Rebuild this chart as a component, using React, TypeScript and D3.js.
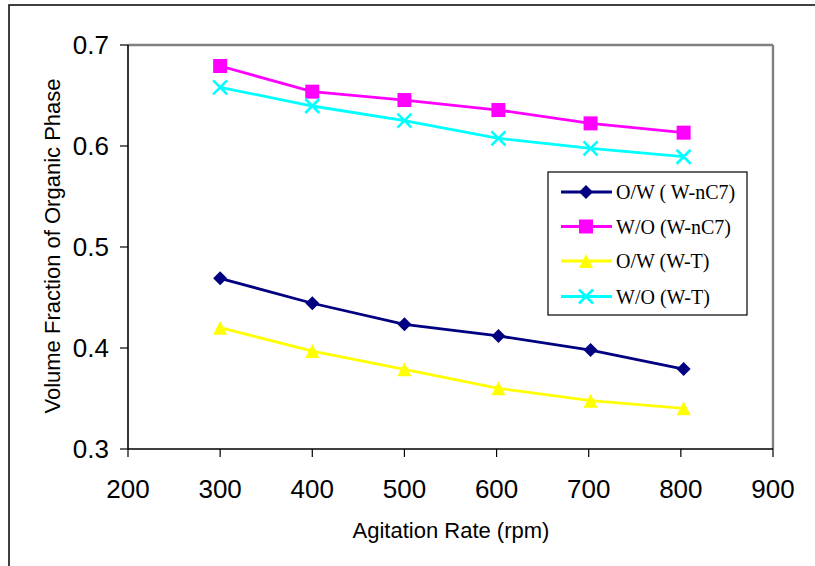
import React from "react";
import * as d3 from "d3";

const rpmOWnC7 = [300, 400, 500, 602, 702, 803];
const rpmWOnC7 = [300, 400, 500, 602, 702, 803];
const rpmOWT = [300, 400, 500, 602, 702, 803];
const rpmWOT = [300, 400, 500, 602, 702, 803];

const owNC7 = [0.469, 0.4443, 0.4235, 0.4119, 0.398, 0.3792];
const woNC7 = [0.6792, 0.6538, 0.6455, 0.6356, 0.6224, 0.6132];
const owT = [0.4201, 0.397, 0.3789, 0.3601, 0.3478, 0.3403];
const woT = [0.6581, 0.6396, 0.6251, 0.6076, 0.5977, 0.5894];

const xTicks = [200, 300, 400, 500, 600, 700, 800, 900];
const yTicks = [0.3, 0.4, 0.5, 0.6, 0.7];

const seriesNames = ["O/W ( W-nC7)", "W/O (W-nC7)", "O/W (W-T)", "W/O (W-T)"];
const xTitle = "Agitation Rate (rpm)";
const yTitle = "Volume Fraction of Organic Phase";

const SANS = "'Liberation Sans', Arial, sans-serif";
const SERIF = "'Liberation Serif', 'Times New Roman', serif";

type Marker = "diamond" | "square" | "triangle" | "x";

function MarkerShape({ type, x, y, color }: { type: Marker; x: number; y: number; color: string }) {
  const h = 7;
  if (type === "diamond") {
    return <path d={`M${x},${y - h} L${x + h},${y} L${x},${y + h} L${x - h},${y} Z`} fill={color} />;
  }
  if (type === "square") {
    return <rect x={x - h} y={y - h} width={2 * h} height={2 * h} fill={color} />;
  }
  if (type === "triangle") {
    return <path d={`M${x},${y - h} L${x + h},${y + h} L${x - h},${y + h} Z`} fill={color} />;
  }
  return (
    <path
      d={`M${x - h},${y - h} L${x + h},${y + h} M${x - h},${y + h} L${x + h},${y - h}`}
      stroke={color}
      strokeWidth={2.6}
      fill="none"
    />
  );
}

export default function App() {
  const W = 815;
  const H = 566;
  const left = 128;
  const right = 773;
  const top = 45;
  const bottom = 449;

  const x = d3.scaleLinear().domain([200, 900]).range([left, right]);
  const y = d3.scaleLinear().domain([0.3, 0.7]).range([bottom, top]);

  const series = [
    { name: seriesNames[0], xs: rpmOWnC7, ys: owNC7, color: "#000080", marker: "diamond" as Marker },
    { name: seriesNames[1], xs: rpmWOnC7, ys: woNC7, color: "#FF00FF", marker: "square" as Marker },
    { name: seriesNames[2], xs: rpmOWT, ys: owT, color: "#FFFF00", marker: "triangle" as Marker },
    { name: seriesNames[3], xs: rpmWOT, ys: woT, color: "#00FFFF", marker: "x" as Marker },
  ];

  const line = d3
    .line<[number, number]>()
    .x((d) => x(d[0]))
    .y((d) => y(d[1]));

  const legX = 548;
  const legY = 172;
  const legW = 199;
  const legH = 143;
  const legRows = [192, 226.5, 261, 296.5];

  return (
    <svg
      width={W}
      height={H}
      style={{ position: "absolute", left: 0, top: 0, background: "#fff" }}
    >
      <rect x={0} y={0} width={W} height={H} fill="#fff" />
      {/* outer border */}
      <rect x={9} y={5} width={1000} height={800} fill="none" stroke="#111" strokeWidth={1.6} />

      {/* plot frame top/right */}
      <line x1={left} y1={top} x2={right} y2={top} stroke="#808080" strokeWidth={2.4} />
      <line x1={right} y1={top} x2={right} y2={bottom} stroke="#808080" strokeWidth={2.4} />

      {/* axes */}
      <line x1={left} y1={top} x2={left} y2={bottom} stroke="#000" strokeWidth={1.6} />
      <line x1={left} y1={bottom} x2={right} y2={bottom} stroke="#000" strokeWidth={1.6} />

      {yTicks.map((t) => (
        <g key={"y" + t}>
          <line x1={left - 8} x2={left} y1={y(t)} y2={y(t)} stroke="#000" strokeWidth={1.2} />
          <text
            x={109}
            y={y(t) + 9}
            textAnchor="end"
            fontFamily={SANS}
            fontSize={26}
            fill="#000"
          >
            {t.toFixed(1)}
          </text>
        </g>
      ))}
      {xTicks.map((t) => (
        <g key={"x" + t}>
          <line x1={x(t)} x2={x(t)} y1={bottom} y2={bottom + 8} stroke="#000" strokeWidth={1.2} />
          <text x={x(t)} y={498} textAnchor="middle" fontFamily={SANS} fontSize={26} fill="#000">
            {t}
          </text>
        </g>
      ))}

      <text x={451} y={537.5} textAnchor="middle" fontFamily={SANS} fontSize={22} fill="#000">
        {xTitle}
      </text>
      <text
        transform={`translate(59.5, 246) rotate(-90)`}
        textAnchor="middle"
        fontFamily={SANS}
        fontSize={22}
        fill="#000"
      >
        {yTitle}
      </text>

      {series.map((s) => {
        const pts = s.xs.map((v, i) => [v, s.ys[i]] as [number, number]);
        return (
          <g key={s.name}>
            <path d={line(pts) || ""} fill="none" stroke={s.color} strokeWidth={2.8} />
            {pts.map((p, i) => (
              <MarkerShape key={i} type={s.marker} x={x(p[0])} y={y(p[1])} color={s.color} />
            ))}
          </g>
        );
      })}

      {/* legend */}
      <rect x={legX} y={legY} width={legW} height={legH} fill="#fff" stroke="#000" strokeWidth={1.2} />
      {series.map((s, i) => (
        <g key={"leg" + s.name}>
          <line x1={561} x2={612} y1={legRows[i]} y2={legRows[i]} stroke={s.color} strokeWidth={2.8} />
          <MarkerShape type={s.marker} x={586} y={legRows[i]} color={s.color} />
          <text x={616} y={legRows[i] + 7} fontFamily={SERIF} fontSize={20} fill="#000">
            {s.name}
          </text>
        </g>
      ))}
    </svg>
  );
}
